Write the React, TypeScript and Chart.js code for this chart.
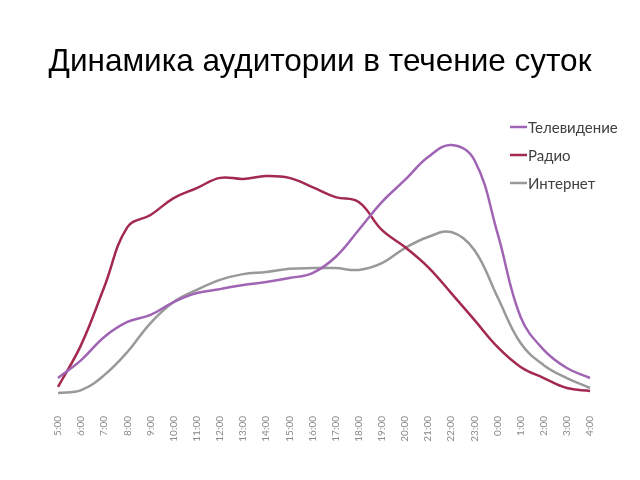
import React, { useEffect, useRef } from "react";
import { Chart, registerables } from "chart.js";

Chart.register(...registerables);

const hours = [
  "5:00", "6:00", "7:00", "8:00", "9:00", "10:00", "11:00", "12:00",
  "13:00", "14:00", "15:00", "16:00", "17:00", "18:00", "19:00", "20:00",
  "21:00", "22:00", "23:00", "0:00", "1:00", "2:00", "3:00", "4:00",
];

const tvValues = [
  9.5, 16.3, 25.1, 30.8, 33.5, 38.4, 41.8, 43.3, 44.9, 46.0, 47.5, 49.4,
  55.5, 65.8, 76.4, 84.8, 93.5, 98.1, 92.4, 64.6, 32.7, 20.2, 13.3, 9.5,
];

const radioValues = [
  6.1, 22.1, 44.1, 66.9, 71.5, 77.9, 81.7, 85.6, 85.2, 86.3, 85.6, 82.1,
  78.3, 76.4, 65.8, 59.3, 51.7, 41.8, 31.6, 21.3, 13.7, 9.5, 5.7, 4.6,
];

const internetValues = [
  3.8, 4.9, 10.6, 19.4, 30.4, 38.4, 43.0, 46.8, 49.0, 49.8, 51.0, 51.3,
  51.3, 50.6, 53.2, 58.9, 63.1, 65.0, 58.2, 40.3, 22.8, 14.4, 9.5, 5.7,
];

const seriesNames = ["Телевидение", "Радио", "Интернет"];
const seriesColors = ["#a064b4", "#a3294e", "#999999"];
const titleText = "Динамика аудитории в течение суток";

const legendPlugin = {
  id: "sideLegend",
  afterDraw(chart: any) {
    const ctx = chart.ctx;
    const x0 = 510;
    const y0 = 127;
    const gap = 28;
    ctx.save();
    chart.data.datasets.forEach((ds: any, i: number) => {
      const y = y0 + i * gap;
      ctx.strokeStyle = ds.borderColor;
      ctx.lineWidth = 2.5;
      ctx.beginPath();
      ctx.moveTo(x0, y);
      ctx.lineTo(x0 + 17, y);
      ctx.stroke();
      ctx.fillStyle = "#404040";
      ctx.font = "15px Lato";
      ctx.textBaseline = "middle";
      ctx.textAlign = "left";
      ctx.fillText(ds.label, x0 + 18, y + 1);
    });
    ctx.restore();
  },
};

const hiddenAxis = (position: "left" | "right", width: number) => ({
  position,
  display: true,
  min: 0,
  max: 100,
  grid: { display: false },
  border: { display: false },
  ticks: { display: false },
  afterFit(scale: any) {
    scale.width = width;
  },
});

export default function App() {
  const canvasRef = useRef<HTMLCanvasElement | null>(null);

  useEffect(() => {
    if (!canvasRef.current) return;
    const values = [tvValues, radioValues, internetValues];
    const chart = new Chart(canvasRef.current, {
      type: "line",
      data: {
        labels: hours,
        datasets: seriesNames.map((name, i) => ({
          label: name,
          data: values[i],
          borderColor: seriesColors[i],
          backgroundColor: seriesColors[i],
          borderWidth: 2.5,
          pointRadius: 0,
          tension: 0.4,
          fill: false,
          yAxisID: "y",
        })),
      },
      options: {
        animation: false,
        responsive: true,
        maintainAspectRatio: false,
        layout: { padding: 0 },
        plugins: {
          legend: { display: false },
          tooltip: { enabled: false },
          title: {
            display: true,
            text: titleText,
            color: "#000000",
            font: { family: "Arial", size: 31.5, weight: "normal" },
            padding: { top: 43, bottom: 59.2 },
          },
        },
        scales: {
          x: {
            grid: { display: false },
            border: { display: false },
            ticks: {
              color: "#8a8a8a",
              font: { family: "Lato", size: 10 },
              minRotation: 90,
              maxRotation: 90,
              autoSkip: false,
              padding: 5,
            },
            afterFit(scale: any) {
              scale.height = 77;
            },
          },
          y: hiddenAxis("left", 58),
          yRight: hiddenAxis("right", 50),
        },
      },
      plugins: [legendPlugin],
    });
    return () => chart.destroy();
  }, []);

  return (
    <div style={{ position: "fixed", left: 0, top: 0, width: 640, height: 480, background: "#ffffff" }}>
      <canvas ref={canvasRef} />
    </div>
  );
}
